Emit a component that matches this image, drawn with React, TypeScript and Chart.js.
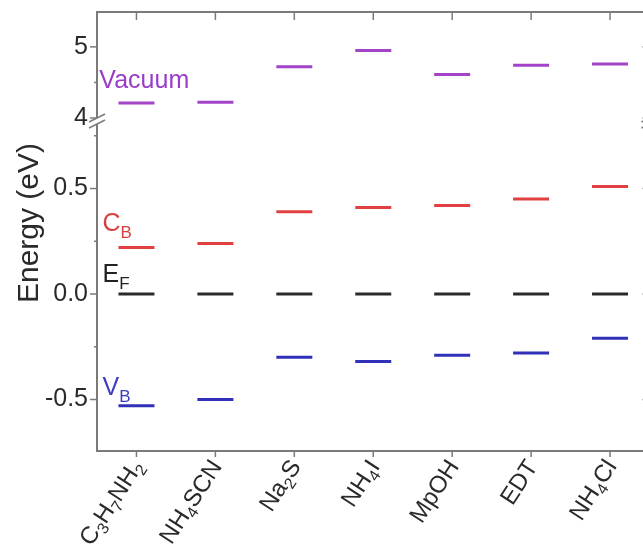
import React, { useEffect, useRef } from 'react';
import { Chart, registerables } from 'chart.js';
Chart.register(...registerables);

// ---- data ----
const categories = ['C₃H₇NH₂', 'NH₄SCN', 'Na₂S', 'NH₄I', 'MpOH', 'EDT', 'NH₄Cl'];
const vacuum = [4.21, 4.22, 4.72, 4.95, 4.61, 4.74, 4.76];
const cb = [0.22, 0.24, 0.39, 0.41, 0.42, 0.45, 0.51];
const ef = [0, 0, 0, 0, 0, 0, 0];
const vb = [-0.53, -0.5, -0.3, -0.32, -0.29, -0.28, -0.21];

const topTicks = [4, 4.5, 5];
const topLabels = ['4', '', '5'];
const bottomTicks = [-0.5, -0.25, 0, 0.25, 0.5, 0.75];
const bottomLabels = ['-0.5', '', '0.0', '', '0.5', ''];

const annoText = ['Vacuum', 'C', 'E', 'V'];
const annoSub = ['', 'B', 'F', 'B'];
const annoX = [-0.47, -0.43, -0.43, -0.43];
const annoY = [4.42, 0.3, 0.057, -0.48];
const annoAxis = ['yTop', 'yBot', 'yBot', 'yBot'];

const yTitle = 'Energy (eV)';

// ---- styles ----
const FONT = 'Arial, "Liberation Sans", Helvetica, sans-serif';
const AXIS_COLOR = '#7a7a7a';
const TEXT_COLOR = '#2a2a2a';
const PURPLE = '#a343c8';
const RED = '#e04040';
const BLACK = '#2a2a2a';
const BLUE = '#3030b8';
const annoColors = ['#9a3cc8', '#d84040', '#222222', '#3c3cc0'];
const SUBS = '₀₁₂₃₄₅₆₇₈₉';

function splitSub(label: string) {
  const out: { t: string; sub: boolean }[] = [];
  for (const ch of label) {
    const k = SUBS.indexOf(ch);
    const sub = k >= 0;
    const c = sub ? String(k) : ch;
    const last = out[out.length - 1];
    if (last && last.sub === sub) last.t += c;
    else out.push({ t: c, sub });
  }
  return out;
}

const framePlugin = {
  id: 'frame',
  afterDraw(chart: any) {
    const { ctx, chartArea, scales } = chart;
    const { left, right, top, bottom } = chartArea;
    ctx.save();
    ctx.strokeStyle = AXIS_COLOR;
    ctx.lineWidth = 2;
    ctx.strokeRect(left, top, right - left, bottom - top);
    ctx.lineWidth = 1.5;
    const line = (x1: number, y1: number, x2: number, y2: number) => {
      ctx.beginPath();
      ctx.moveTo(x1, y1);
      ctx.lineTo(x2, y2);
      ctx.stroke();
    };
    categories.forEach((_, i) => {
      const x = scales.x.getPixelForValue(i);
      line(x, top, x, top + 8);
      line(x, bottom, x, bottom + 6);
    });
    const yAxes: [any, number[], string[]][] = [
      [scales.yTop, topTicks, topLabels],
      [scales.yBot, bottomTicks, bottomLabels],
    ];
    yAxes.forEach(([s, vals, labs]) => {
      vals.forEach((v, i) => {
        const y = s.getPixelForValue(v);
        const major = labs[i] !== '';
        line(left - (major ? 7 : 3), y, left, y);
        if (major) line(right - 7, y, right, y);
      });
    });
    // axis break marks
    const yb = scales.yTop.bottom;
    [left, right].forEach((x) => {
      ctx.fillStyle = '#ffffff';
      ctx.beginPath();
      ctx.moveTo(x - 8, yb + 1);
      ctx.lineTo(x + 8, yb - 7);
      ctx.lineTo(x + 8, yb - 1);
      ctx.lineTo(x - 8, yb + 7);
      ctx.closePath();
      ctx.fill();
      ctx.strokeStyle = AXIS_COLOR;
      ctx.lineWidth = 1.5;
      line(x - 8, yb + 1, x + 8, yb - 7);
      line(x - 8, yb + 7, x + 8, yb - 1);
    });
    // y title
    ctx.save();
    ctx.translate(30, 223);
    ctx.rotate(-Math.PI / 2);
    ctx.font = `30px ${FONT}`;
    ctx.fillStyle = TEXT_COLOR;
    ctx.textAlign = 'center';
    ctx.textBaseline = 'middle';
    ctx.fillText(yTitle, 0, 0);
    ctx.restore();

    // category labels (rotated, with subscripts)
    const main = 24;
    const small = 16;
    const cap = main * 0.716;
    categories.forEach((lab, i) => {
      const x = scales.x.getPixelForValue(i);
      const parts = splitSub(lab);
      ctx.save();
      ctx.translate(x - 7, bottom + 6);
      ctx.rotate((-57 * Math.PI) / 180);
      ctx.fillStyle = TEXT_COLOR;
      ctx.textAlign = 'left';
      ctx.textBaseline = 'alphabetic';
      let total = 0;
      const widths = parts.map((p) => {
        ctx.font = `${p.sub ? small : main}px ${FONT}`;
        const w = ctx.measureText(p.t).width;
        total += w;
        return w;
      });
      let cx = -total;
      parts.forEach((p, k) => {
        ctx.font = `${p.sub ? small : main}px ${FONT}`;
        ctx.fillText(p.t, cx, cap + (p.sub ? 5 : 0));
        cx += widths[k];
      });
      ctx.restore();
    });
    ctx.restore();
  },
};

const annoPlugin = {
  id: 'anno',
  afterDatasetsDraw(chart: any) {
    const { ctx, scales } = chart;
    ctx.save();
    ctx.textBaseline = 'alphabetic';
    ctx.textAlign = 'left';
    annoText.forEach((t, i) => {
      const x = scales.x.getPixelForValue(annoX[i]);
      const y = scales[annoAxis[i]].getPixelForValue(annoY[i]);
      ctx.fillStyle = annoColors[i];
      ctx.font = `25px ${FONT}`;
      ctx.fillText(t, x, y);
      const w = ctx.measureText(t).width;
      if (annoSub[i]) {
        ctx.font = `17px ${FONT}`;
        ctx.fillText(annoSub[i], x + w, y + 7);
      }
    });
    ctx.restore();
  },
};

function seg(values: number[], color: string, axis: string) {
  return {
    data: values.map((v, i) => ({ x: i, y: v })),
    yAxisID: axis,
    showLine: false,
    pointStyle: 'line',
    pointRadius: 18,
    pointHoverRadius: 18,
    pointBorderWidth: 3,
    pointBorderColor: color,
    pointBackgroundColor: color,
  };
}

function yAxis(min: number, max: number, weight: number, stackWeight: number, ticks: number[], labels: string[]) {
  return {
    type: 'linear',
    position: 'left',
    stack: 'y',
    stackWeight,
    weight,
    min,
    max,
    grid: { display: false, drawTicks: false },
    border: { display: false },
    afterBuildTicks: (s: any) => {
      s.ticks = ticks.map((v) => ({ value: v }));
    },
    afterFit: (s: any) => {
      s.width = 97;
      s.paddingTop = 0;
      s.paddingBottom = 0;
    },
    ticks: {
      padding: 9,
      color: TEXT_COLOR,
      font: { family: FONT, size: 25 },
      callback: (_v: any, i: number) => labels[i],
    },
  };
}

export default function App() {
  const ref = useRef<HTMLCanvasElement>(null);
  useEffect(() => {
    if (!ref.current) return;
    const chart = new Chart(ref.current, {
      type: 'scatter',
      data: {
        datasets: [
          seg(vacuum, PURPLE, 'yTop'),
          seg(cb, RED, 'yBot'),
          seg(ef, BLACK, 'yBot'),
          seg(vb, BLUE, 'yBot'),
        ] as any,
      },
      options: {
        responsive: false,
        animation: false,
        events: [],
        layout: { autoPadding: false, padding: { left: 0, top: 12, right: 10.5, bottom: 0 } },
        plugins: { legend: { display: false }, tooltip: { enabled: false }, title: { display: false } },
        scales: {
          x: {
            type: 'linear',
            position: 'bottom',
            min: -0.5,
            max: 6.5,
            grid: { display: false, drawTicks: false },
            border: { display: false },
            afterBuildTicks: (s: any) => {
              s.ticks = categories.map((_, i) => ({ value: i }));
            },
            afterFit: (s: any) => {
              s.height = 100;
              s.paddingLeft = 0;
              s.paddingRight = 0;
            },
            ticks: {
              display: false,
              autoSkip: false,
              callback: (v: any) => categories[Math.round(Number(v))] ?? '',
            },
          },
          yTop: yAxis(3.958, 5.49, 1, 109, topTicks, topLabels),
          yBot: yAxis(-0.744, 0.82, 0, 330, bottomTicks, bottomLabels),
        } as any,
      },
      plugins: [framePlugin, annoPlugin],
    });
    return () => chart.destroy();
  }, []);
  return (
    <div
      style={{
        position: 'fixed',
        left: 0,
        top: 0,
        width: 643,
        height: 551,
        overflow: 'hidden',
        background: '#ffffff',
      }}
    >
      <canvas ref={ref} width={660} height={551} style={{ display: 'block', width: 660, height: 551 }} />
    </div>
  );
}
